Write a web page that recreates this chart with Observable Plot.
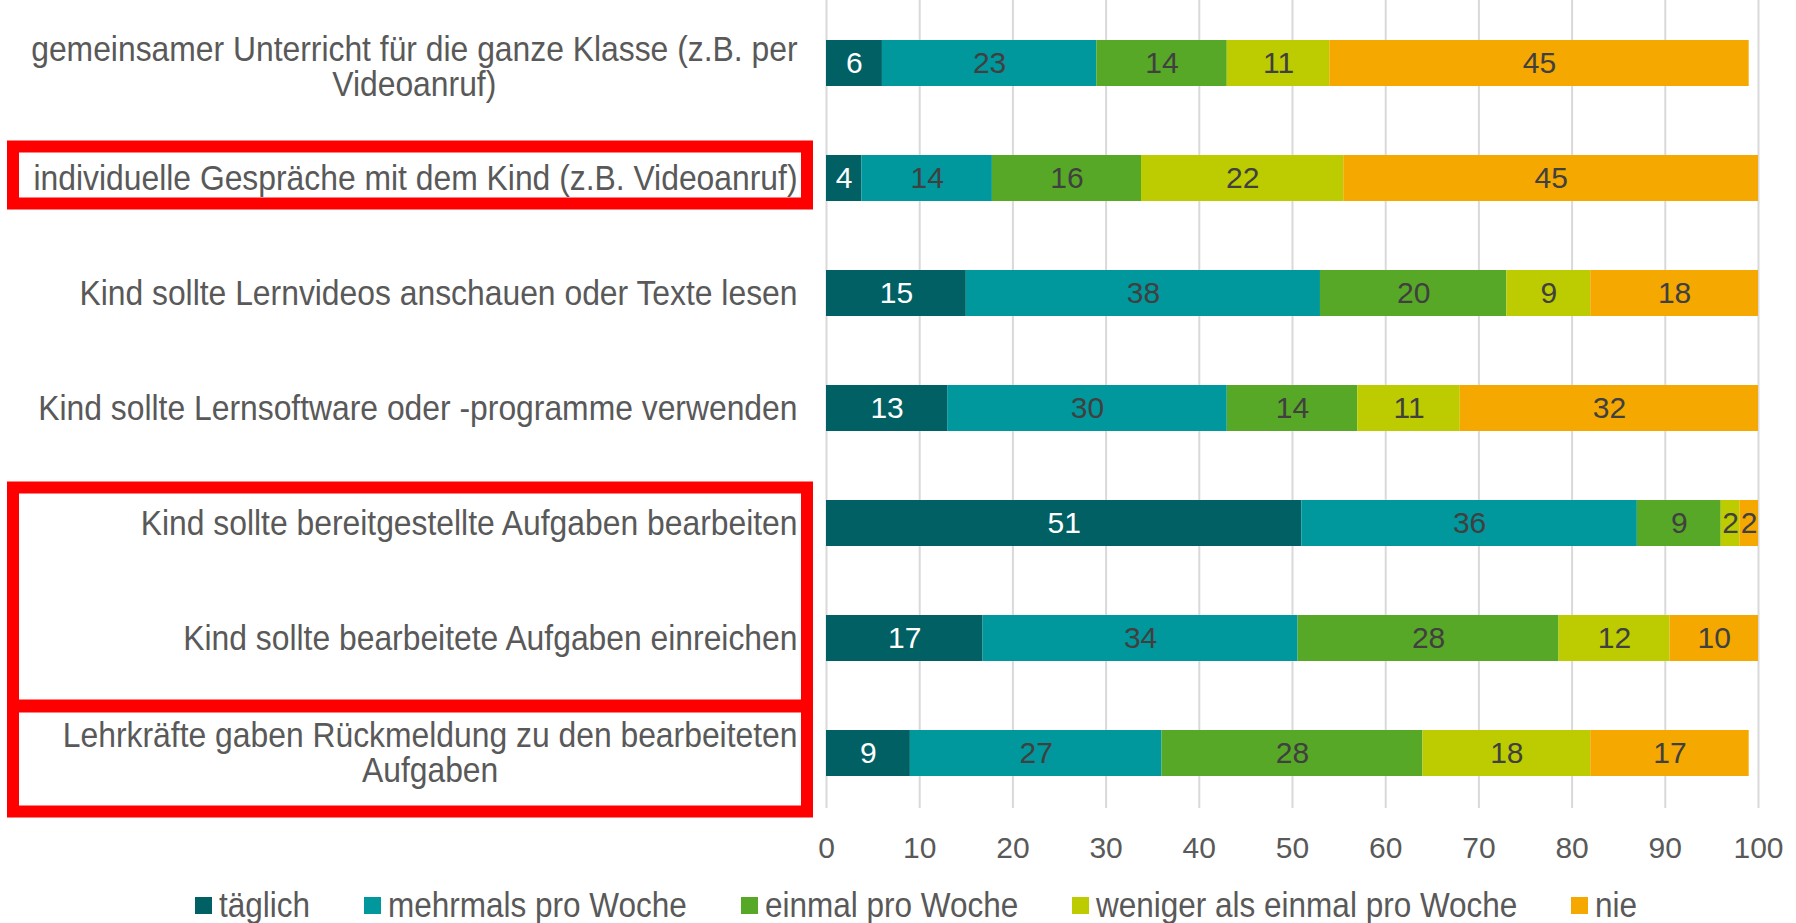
<!DOCTYPE html>
<html><head><meta charset="utf-8">
<script src="https://cdn.jsdelivr.net/npm/d3@7"></script>
<script src="https://cdn.jsdelivr.net/npm/@observablehq/plot@0.6"></script>
<style>
body{margin:0;background:#fff;font-family:"Liberation Sans",Arial,sans-serif;}
#chart{position:relative;width:1796px;}
.legend{display:flex;align-items:center;padding-left:195px;margin-top:12px;font-size:35px;color:#595959;line-height:38px;}
.item{display:flex;align-items:center;margin-right:54px;white-space:nowrap;}
.sw{width:17px;height:17px;margin-right:7px;flex:none;}
.lt{display:inline-block;transform-origin:0 50%;}
</style></head><body><div id="chart"></div>
<script>
// ---- data ----
const categories = [
  "gemeinsamer Unterricht für die ganze Klasse (z.B. per\nVideoanruf)",
  "individuelle Gespräche mit dem Kind (z.B. Videoanruf)",
  "Kind sollte Lernvideos anschauen oder Texte lesen",
  "Kind sollte Lernsoftware oder -programme verwenden",
  "Kind sollte bereitgestellte Aufgaben bearbeiten",
  "Kind sollte bearbeitete Aufgaben einreichen",
  "Lehrkräfte gaben Rückmeldung zu den bearbeiteten\nAufgaben"
];
const series = ["täglich", "mehrmals pro Woche", "einmal pro Woche", "weniger als einmal pro Woche", "nie"];
const taeglich  = [6, 3.8, 15, 13, 51, 16.8, 9];
const mehrmals  = [23, 14, 38, 30, 36, 33.8, 27];
const einmal    = [14, 16, 20, 14, 9, 28, 28];
const weniger   = [11, 21.7, 9, 11, 2, 11.9, 18];
const nie       = [45, 44.5, 18, 32, 2, 9.5, 17];
const xTicks = [0, 10, 20, 30, 40, 50, 60, 70, 80, 90, 100];
// highlighted category groups (red annotation boxes)
const highlightGroups = [
  [categories[1]],
  [categories[4], categories[5]],
  [categories[6]]
];

// ---- styles ----
const colors = ["#006064", "#00979D", "#58A827", "#BDCC00", "#F5A800"];
const boxStyle = {x0: 7, x1: 813, stroke: 12, pads: [[14.5, 8.5], [18.5, 50.5], [29.5, 41.5]]};
const condense = 0.91;

const seriesValues = [taeglich, mehrmals, einmal, weniger, nie];
const data = categories.flatMap((c, i) => series.map((s, j) => ({category: c, series: s, value: seriesValues[j][i]})));

const plot = Plot.plot({
  width: 1796, height: 874,
  marginLeft: 826, marginRight: 38, marginTop: 4, marginBottom: 62,
  style: {fontFamily: '"Liberation Sans", Arial, sans-serif', color: "#595959", background: "#fff", overflow: "visible"},
  x: {domain: [0, 100], label: null},
  y: {domain: categories, paddingInner: 0.6, paddingOuter: 0.313, round: false, label: null},
  color: {domain: series, range: colors},
  marks: [
    Plot.ruleX(xTicks, {stroke: "#d9d9d9", strokeWidth: 2, insetTop: -4, insetBottom: 4}),
    Plot.barX(data, Plot.stackX({x: "value", y: "category", fill: "series"})),
    Plot.text(data, Plot.stackX({
      x: "value", y: "category",
      text: d => String(Math.round(d.value)),
      fill: d => d.series === "täglich" ? "#ffffff" : "#404040",
      fontSize: 30
    })),
    Plot.axisX({ticks: xTicks, tickSize: 0, tickPadding: 24, fontSize: 30, label: null}),
    Plot.axisY({tickSize: 0, tickPadding: 29, fontSize: 35, lineHeight: 1.0, label: null})
  ]
});

document.getElementById("chart").appendChild(plot);

// condensed category labels; multi-line labels centered within their block
d3.select(plot).selectAll('g[aria-label="y-axis tick label"] text').each(function(d, i) {
  const tspans = Array.from(this.querySelectorAll("tspan"));
  let shift = 0;
  if (tspans.length > 1) {
    const widths = tspans.map(t => t.getComputedTextLength());
    const maxW = Math.max(...widths);
    tspans.forEach((t, k) => t.setAttribute("x", -(maxW - widths[k]) / 2));
    if (i === 0) shift = 4;
  }
  const tr = this.getAttribute("transform") || "";
  this.setAttribute("transform", tr + ` translate(0,${shift}) scale(${condense},1)`);
});

// red highlight boxes, positioned through the y scale
const y = plot.scale("y");
const bw = y.bandwidth;
const svg = d3.select(plot);
highlightGroups.forEach((g, i) => {
  const top = y.apply(g[0]) - boxStyle.pads[i][0];
  const bottom = y.apply(g[g.length - 1]) + bw + boxStyle.pads[i][1];
  const s = boxStyle.stroke;
  svg.append("rect")
    .attr("x", boxStyle.x0 + s / 2).attr("y", top + s / 2)
    .attr("width", boxStyle.x1 - boxStyle.x0 - s).attr("height", bottom - top - s)
    .attr("fill", "none").attr("stroke", "#ff0000").attr("stroke-width", s);
});

// legend
const color = plot.scale("color");
const legend = d3.select("#chart").append("div").attr("class", "legend");
color.domain.forEach((s, i) => {
  const it = legend.append("div").attr("class", "item");
  it.append("div").attr("class", "sw").style("background", color.range[i]);
  const sp = it.append("span").attr("class", "lt").text(s);
  const w = sp.node().getBoundingClientRect().width;
  sp.style("width", (w * 0.9) + "px").style("transform", "scaleX(0.9)");
});
</script>
</body></html>
